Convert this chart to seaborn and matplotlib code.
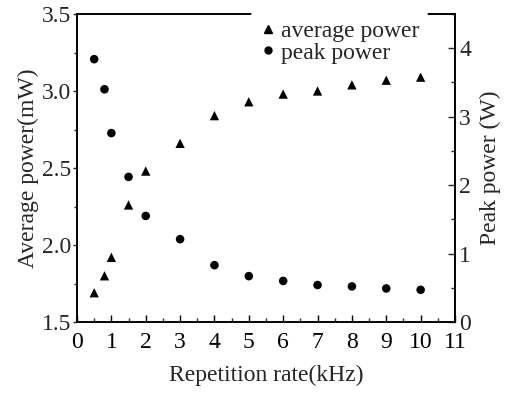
import matplotlib
matplotlib.use("Agg")
import matplotlib.pyplot as plt
from matplotlib.ticker import MultipleLocator, FormatStrFormatter
from matplotlib.lines import Line2D
import seaborn as sns
import pandas as pd

rate_khz = [0.5, 0.8, 1.0, 1.5, 2, 3, 4, 5, 6, 7, 8, 9, 10]
avg_power_mw = [1.69, 1.80, 1.92, 2.26, 2.48, 2.66, 2.84, 2.93, 2.98, 3.00, 3.04, 3.07, 3.09]
peak_power_w = [3.84, 3.40, 2.76, 2.12, 1.55, 1.21, 0.83, 0.67, 0.60, 0.54, 0.52, 0.49, 0.47]
legend_labels = ["average power", "peak power"]

sns.set_theme(style="ticks")
plt.rcParams['font.family'] = ['Liberation Serif', 'DejaVu Serif']

df = pd.DataFrame({"rate": rate_khz, "avg": avg_power_mw, "peak": peak_power_w})

fig = plt.figure(figsize=(5.08, 3.93), dpi=100)
ax = fig.add_axes([77/508, 1-322/393, (455-77)/508, (322-14)/393])
ax2 = ax.twinx()

sns.scatterplot(data=df, x="rate", y="avg", marker="^", s=45, color="black",
                edgecolor="none", ax=ax, legend=False)
sns.scatterplot(data=df, x="rate", y="peak", marker="o", s=38, color="black",
                edgecolor="none", ax=ax2, legend=False)

ax.set_xlim(0, 11)
ax.set_ylim(1.5, 3.5)
ax2.set_ylim(0, 4.5)

ax.xaxis.set_major_locator(MultipleLocator(1))
ax.xaxis.set_minor_locator(MultipleLocator(0.5))
ax.yaxis.set_major_locator(MultipleLocator(0.5))
ax.yaxis.set_minor_locator(MultipleLocator(0.25))
ax2.yaxis.set_major_locator(MultipleLocator(1))
ax2.yaxis.set_minor_locator(MultipleLocator(0.5))
ax.yaxis.set_major_formatter(FormatStrFormatter('%.1f'))

fs = 17
ax.tick_params(axis='x', which='major', direction='in', length=5, width=1, labelsize=fs, pad=7.5, colors='black')
ax.tick_params(axis='x', which='minor', direction='in', length=3, width=1)
ax.tick_params(axis='y', which='major', direction='out', length=3, width=1, labelsize=fs, pad=1)
ax.tick_params(axis='y', which='minor', direction='out', length=2, width=1)
ax2.tick_params(axis='y', which='major', direction='in', length=5, width=1, labelsize=fs, pad=3)
ax2.tick_params(axis='y', which='minor', direction='in', length=3, width=1)

for a in (ax, ax2):
    for sp in a.spines.values():
        sp.set_linewidth(1.2)
        sp.set_color('black')

ax.set_xlabel("Repetition rate(kHz)", fontsize=fs, labelpad=8.5)
ax.set_ylabel("Average power(mW)", fontsize=fs, labelpad=2)
ax2.set_ylabel("Peak power (W)", fontsize=fs, labelpad=6)

handles = [Line2D([], [], marker="^", ls="none", color="black", markersize=6),
           Line2D([], [], marker="o", ls="none", color="black", markersize=5)]
leg = ax2.legend(handles, legend_labels, loc="upper left",
                 bbox_to_anchor=((251-77)/378, (322-11)/308), frameon=True, fontsize=fs,
                 handlelength=0.6, handletextpad=0.25, borderpad=0.4,
                 labelspacing=0.0, borderaxespad=0)
leg.get_frame().set_facecolor('white')
leg.get_frame().set_edgecolor('none')
leg.get_frame().set_alpha(1)
leg.set_zorder(10)

fig.savefig("out.png", dpi=100)
